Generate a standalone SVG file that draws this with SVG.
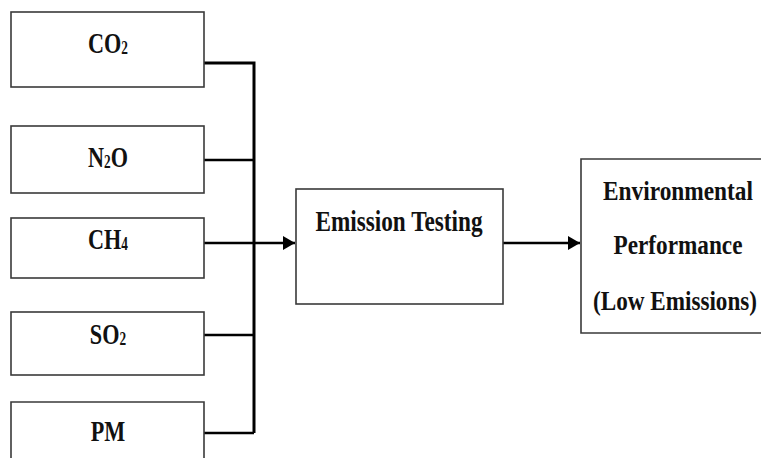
<svg xmlns="http://www.w3.org/2000/svg" width="761" height="458" viewBox="0 0 761 458">
  <style>
    .box { fill: #ffffff; stroke: #3a3a3a; stroke-width: 1.6; }
    .lbl { font-family: "Liberation Serif", "Times New Roman", serif; font-weight: bold; fill: #111111; text-anchor: middle; }
    .gas { font-size: 30px; }
    .big { font-size: 30px; }
    .out { font-size: 27px; }
    .sub { font-size: 18px; }
    .wire { fill: none; stroke: #000000; stroke-width: 2.6; }
  </style>
  <defs>
    <marker id="arrow" markerWidth="12" markerHeight="14" refX="12" refY="7" orient="auto" markerUnits="userSpaceOnUse">
      <path d="M0,0 L12,7 L0,14 Z" fill="#000000"/>
    </marker>
  </defs>

  <rect width="761" height="458" fill="#ffffff"/>

  <!-- connectors -->
  <g id="connectors">
    <path class="wire" d="M204,63 H254 V433" style="stroke-width:3"/>
    <path class="wire" d="M204,160 H254"/>
    <path class="wire" d="M204,335 H254"/>
    <path class="wire" d="M204,433 H254"/>
    <path class="wire" d="M204,243 H295" marker-end="url(#arrow)"/>
    <path class="wire" d="M503,243 H580" marker-end="url(#arrow)"/>
  </g>

  <!-- input gases -->
  <g id="co2">
    <rect class="box" x="11" y="12" width="193" height="75"/>
    <g transform="translate(108,53) scale(0.74,1)">
      <text class="lbl gas" x="0" y="0">CO<tspan class="sub" dy="1">2</tspan></text>
    </g>
  </g>
  <g id="n2o">
    <rect class="box" x="11" y="126" width="193" height="67"/>
    <g transform="translate(108,167) scale(0.74,1)">
      <text class="lbl gas" x="0" y="0">N<tspan class="sub" dy="1">2</tspan><tspan dy="-1">O</tspan></text>
    </g>
  </g>
  <g id="ch4">
    <rect class="box" x="11" y="218" width="193" height="60"/>
    <g transform="translate(108,249) scale(0.74,1)">
      <text class="lbl gas" x="0" y="0">CH<tspan class="sub" dy="1">4</tspan></text>
    </g>
  </g>
  <g id="so2">
    <rect class="box" x="11" y="312" width="193" height="63"/>
    <g transform="translate(108,344) scale(0.74,1)">
      <text class="lbl gas" x="0" y="0">SO<tspan class="sub" dy="1">2</tspan></text>
    </g>
  </g>
  <g id="pm">
    <path class="box" d="M11,458 V402 H204 V458"/>
    <g transform="translate(108,441) scale(0.74,1)">
      <text class="lbl gas" x="0" y="0">PM</text>
    </g>
  </g>

  <!-- testing stage -->
  <g id="emission-testing">
    <rect class="box" x="296" y="189" width="207" height="115"/>
    <text class="lbl big" x="399" y="231" textLength="167" lengthAdjust="spacingAndGlyphs">Emission Testing</text>
  </g>

  <!-- outcome -->
  <g id="environmental-performance">
    <path class="box" d="M761,159 H581 V333 H761"/>
    <text class="lbl out" x="678" y="200" textLength="150" lengthAdjust="spacingAndGlyphs">Environmental</text>
    <text class="lbl out" x="678" y="254" textLength="129" lengthAdjust="spacingAndGlyphs">Performance</text>
    <text class="lbl out" x="675" y="310" textLength="164" lengthAdjust="spacingAndGlyphs">(Low Emissions)</text>
  </g>
</svg>
